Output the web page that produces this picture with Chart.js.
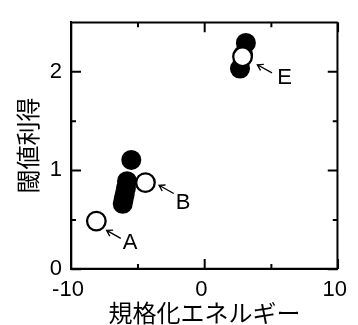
<!DOCTYPE html>
<html><head><meta charset="utf-8">
<script src="https://cdn.jsdelivr.net/npm/chart.js@4/dist/chart.umd.min.js"></script>
<style>html,body{margin:0;padding:0;background:#fff;}canvas{display:block;}</style>
</head><body>
<canvas id="c" width="358" height="325"></canvas>
<script>
// ---- data ----
const openX = [-8.1, -4.42, 2.86];
const openY = [0.485, 0.875, 2.15];
const filledX = [-5.48, -5.8, -5.88, -5.97, -6.05, -6.12, 3.11, 2.9, 2.67];
const filledY = [1.105, 0.89, 0.82, 0.76, 0.71, 0.66, 2.29, 2.17, 2.03];
const xMajorTicks = [-10, 0, 10];
const xMinorTicks = [-5, 5];
const yMajorTicks = [0, 1, 2];
const yMinorTicks = [0.5, 1.5];
const xTitle = '規格化エネルギー';
const yTitle = '閾値利得';
const noteLabels = ['A', 'B', 'E'];
const noteTextX = [-5.57, -1.60, 6.01];
const noteTextY = [0.259, 0.674, 1.933];
const arrowTailX = [-6.27, -2.30, 5.07];
const arrowTailY = [0.310, 0.765, 1.987];
const arrowTipX = [-7.33, -3.40, 3.97];
const arrowTipY = [0.391, 0.848, 2.069];

const LATIN = '"Liberation Sans", Arial, sans-serif';
const CJK = '"Noto Sans CJK JP", sans-serif';

const toPts = (xs, ys) => xs.map((x, i) => ({x, y: ys[i]}));

function drawFrame(chart) {
  const ctx = chart.ctx;
  const x = chart.scales.x, y = chart.scales.y;
  const L0 = x.getPixelForValue(-10), R0 = x.getPixelForValue(10);
  const T0 = y.getPixelForValue(2.5), B0 = y.getPixelForValue(0);
  ctx.save();
  ctx.strokeStyle = '#000000';
  ctx.lineWidth = 2;
  ctx.setLineDash([]);
  ctx.beginPath();
  ctx.moveTo(L0, T0 + 0.3); ctx.lineTo(R0, T0 + 0.3);
  ctx.moveTo(R0 - 0.3, T0); ctx.lineTo(R0 - 0.3, B0);
  ctx.moveTo(R0, B0 - 0.3); ctx.lineTo(L0, B0 - 0.3);
  ctx.moveTo(L0 + 0.3, B0); ctx.lineTo(L0 + 0.3, T0);
  const xt = (v, len) => {
    const p = x.getPixelForValue(v) + 0.3;
    ctx.moveTo(p, B0); ctx.lineTo(p, B0 - len);
    ctx.moveTo(p, T0); ctx.lineTo(p, T0 + len);
  };
  const yt = (v, len) => {
    const p = y.getPixelForValue(v) + 0.3;
    ctx.moveTo(L0, p); ctx.lineTo(L0 + len, p);
    ctx.moveTo(R0, p); ctx.lineTo(R0 - len, p);
  };
  xMajorTicks.forEach(v => xt(v, 10));
  xMinorTicks.forEach(v => xt(v, 5));
  yMajorTicks.forEach(v => yt(v, 10));
  yMinorTicks.forEach(v => yt(v, 5));
  ctx.stroke();
  ctx.restore();
}

function drawNotes(chart) {
  const ctx = chart.ctx;
  const x = chart.scales.x, y = chart.scales.y;
  ctx.save();
  ctx.strokeStyle = '#000';
  ctx.fillStyle = '#000';
  ctx.lineWidth = 1.3;
  for (let i = 0; i < noteLabels.length; i++) {
    const tx = x.getPixelForValue(arrowTailX[i]), ty = y.getPixelForValue(arrowTailY[i]);
    const hx = x.getPixelForValue(arrowTipX[i]), hy = y.getPixelForValue(arrowTipY[i]);
    const ang = Math.atan2(ty - hy, tx - hx);
    ctx.beginPath();
    ctx.moveTo(tx, ty); ctx.lineTo(hx, hy);
    const L = 6.5, w = 0.55;
    ctx.moveTo(hx + L * Math.cos(ang + w), hy + L * Math.sin(ang + w));
    ctx.lineTo(hx, hy);
    ctx.lineTo(hx + L * Math.cos(ang - w), hy + L * Math.sin(ang - w));
    ctx.stroke();
    ctx.font = '22px ' + LATIN;
    ctx.textAlign = 'center';
    ctx.textBaseline = 'middle';
    ctx.fillText(noteLabels[i], x.getPixelForValue(noteTextX[i]), y.getPixelForValue(noteTextY[i]));
  }
  ctx.restore();
}

const framePlugin = {
  id: 'frame',
  afterDraw(chart) { drawFrame(chart); drawNotes(chart); }
};

new Chart(document.getElementById('c'), {
  type: 'scatter',
  data: {
    datasets: [
      {
        data: toPts(openX, openY),
        pointRadius: 9.3,
        pointBackgroundColor: '#fff',
        pointBorderColor: '#000',
        pointBorderWidth: 2.3,
        pointHoverRadius: 9.3
      },
      {
        data: toPts(filledX, filledY),
        pointRadius: 10,
        pointBackgroundColor: '#000',
        pointBorderColor: '#000',
        pointBorderWidth: 0,
        pointHoverRadius: 10
      }
    ]
  },
  options: {
    responsive: false,
    animation: false,
    events: [],
    layout: {padding: {top: 14, right: 15, left: 0, bottom: 0}},
    plugins: {legend: {display: false}, tooltip: {enabled: false}},
    scales: {
      x: {
        type: 'linear', position: 'bottom', min: -10, max: 10,
        grid: {display: false, drawTicks: false},
        border: {display: true, color: '#000', width: 2},
        ticks: {
          stepSize: 5, padding: 8, labelOffset: -3, maxRotation: 0,
          color: '#000', font: {family: LATIN, size: 22},
          callback: v => xMajorTicks.includes(v) ? String(v) : ''
        },
        title: {display: true, text: xTitle, color: '#000',
          font: {family: CJK, size: 24, lineHeight: 1}, padding: {top: 0, bottom: 0}},
        afterFit: s => { s.height = 56; }
      },
      y: {
        type: 'linear', position: 'left', min: 0, max: 2.5,
        grid: {display: false, drawTicks: false},
        border: {display: true, color: '#000', width: 2},
        ticks: {
          stepSize: 0.5, padding: 9,
          color: '#000', font: {family: LATIN, size: 22},
          callback: v => yMajorTicks.includes(v) ? String(v) : ''
        },
        title: {display: true, text: yTitle, color: '#000',
          font: {family: CJK, size: 24, lineHeight: 1}, padding: {top: 16, bottom: 0}},
        afterFit: s => { s.width = 71; }
      }
    }
  },
  plugins: [framePlugin]
});
</script>
</body></html>
